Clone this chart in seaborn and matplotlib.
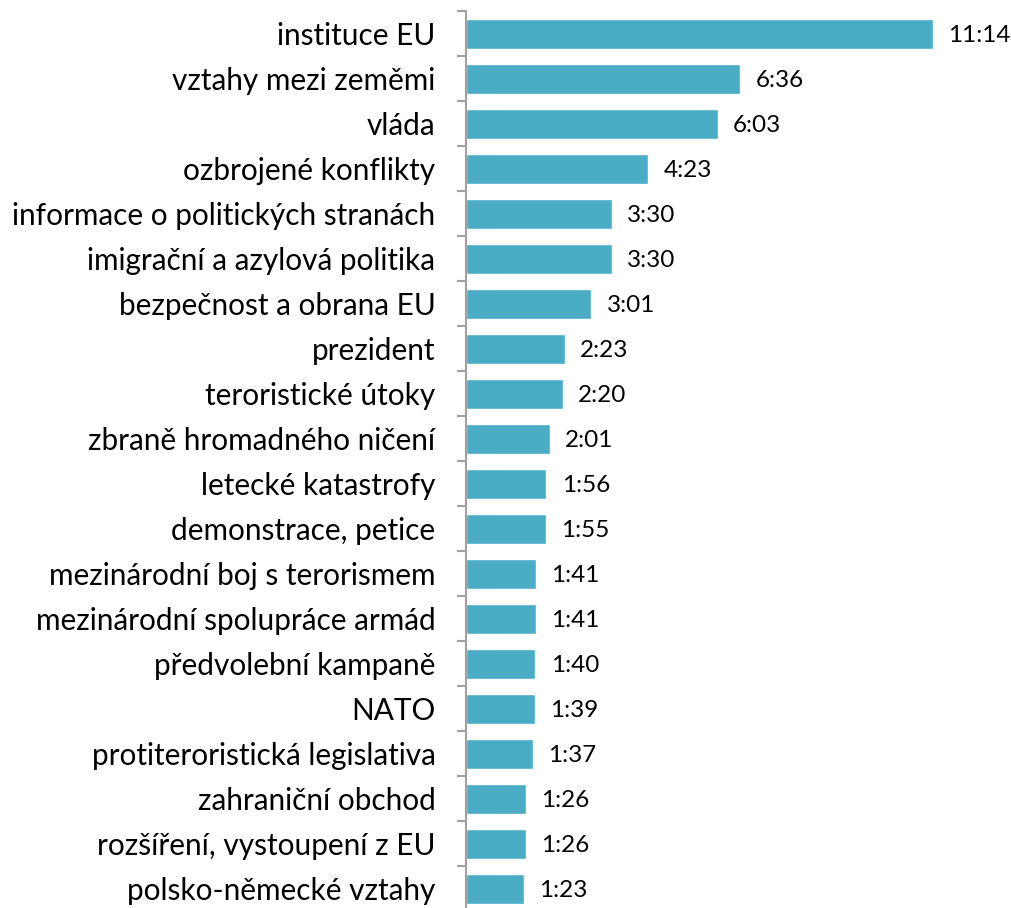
import matplotlib
matplotlib.use("Agg")
import matplotlib.pyplot as plt
import seaborn as sns
import pandas as pd
import numpy as np

categories = ["instituce EU", "vztahy mezi zeměmi", "vláda", "ozbrojené konflikty",
              "informace o politických stranách", "imigrační a azylová politika",
              "bezpečnost a obrana EU", "prezident", "teroristické útoky",
              "zbraně hromadného ničení", "letecké katastrofy", "demonstrace, petice",
              "mezinárodní boj s terorismem", "mezinárodní spolupráce armád",
              "předvolební kampaně", "NATO", "protiteroristická legislativa",
              "zahraniční obchod", "rozšíření, vystoupení z EU", "polsko-německé vztahy"]
labels = ["11:14", "6:36", "6:03", "4:23", "3:30", "3:30", "3:01", "2:23", "2:20", "2:01",
          "1:56", "1:55", "1:41", "1:41", "1:40", "1:39", "1:37", "1:26", "1:26", "1:23"]
seconds = [int(l.split(":")[0]) * 60 + int(l.split(":")[1]) for l in labels]

df = pd.DataFrame({"cat": categories, "sec": seconds, "lab": labels})

sns.set_style("white")
plt.rcParams['font.family'] = ['Lato', 'DejaVu Sans']

fig = plt.figure(figsize=(10.12, 9.08), dpi=100)
ax = fig.add_axes([466/1012, -3.5/908, 546/1012, 900/908])
sns.barplot(data=df, y="cat", x="sec", orient="h", color="#4BACC6", width=0.67,
            saturation=1, ax=ax)
ax.set_xlim(0, 788)
ax.set_ylim(len(categories) - 0.5, -0.5)
ax.set_xlabel("")
ax.set_ylabel("")
ax.set_xticks([])
for s in ["top", "right", "bottom"]:
    ax.spines[s].set_visible(False)
ax.spines["left"].set_color("#A0A0A0")
ax.spines["left"].set_linewidth(1.5)
ax.tick_params(axis="y", which="major", length=0, pad=22, labelsize=21.4, labelcolor="black")
ax.set_yticks(np.arange(-0.5, len(categories), 1.0), minor=True)
ax.tick_params(axis="y", which="minor", length=6.5, width=1.5, color="#A0A0A0", left=True)

for i, (v, t) in enumerate(zip(seconds, labels)):
    ax.annotate(t, xy=(v, i), xytext=(11, -1), textcoords="offset points",
                va="center", ha="left", fontsize=17.5, color="black")

fig.savefig("out.png", dpi=100)
